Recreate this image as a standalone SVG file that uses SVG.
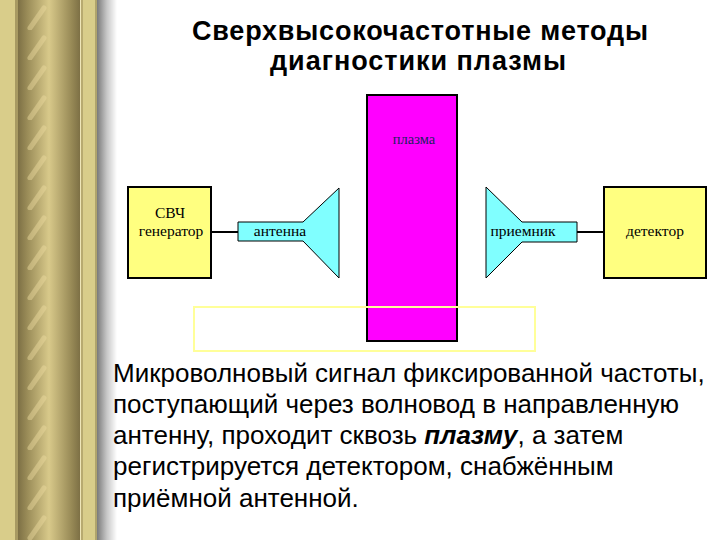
<svg xmlns="http://www.w3.org/2000/svg" width="720" height="540" viewBox="0 0 720 540">
<defs>
<linearGradient id="col" x1="0" y1="0" x2="1" y2="0">
<stop offset="0" stop-color="#7d7045"/>
<stop offset="0.15" stop-color="#9a8c58"/>
<stop offset="0.5" stop-color="#d8c98a"/>
<stop offset="0.85" stop-color="#9a8c58"/>
<stop offset="1" stop-color="#7d7045"/>
</linearGradient>
<linearGradient id="shadow" x1="0" y1="0" x2="1" y2="0">
<stop offset="0" stop-color="#7a7a7a"/>
<stop offset="0.5" stop-color="#c8c8c8"/>
<stop offset="1" stop-color="#ffffff"/>
</linearGradient>
<pattern id="streaks" x="0" y="0" width="62" height="30" patternUnits="userSpaceOnUse">
<path d="M30 28 L44 8" stroke="#ecdca0" stroke-width="5" stroke-linecap="round" opacity="0.45"/>
</pattern>
<style>
.title{font-family:"Liberation Sans",Arial,sans-serif;font-weight:bold;font-size:27px;fill:#000;text-anchor:middle}
.body{font-family:"Liberation Sans",Arial,sans-serif;font-size:26px;fill:#000}
.lbl{font-family:"Liberation Serif","Times New Roman",serif;font-size:15.5px;fill:#000;text-anchor:middle}
.box{fill:#ffff80;stroke:#000;stroke-width:2}
.ant{fill:#80ffff;stroke:#000;stroke-width:1}
.wire{stroke:#000;stroke-width:2;fill:none}
</style>
</defs>
<rect width="720" height="540" fill="#fff"/>
<g id="border">
<rect x="0" y="0" width="97" height="540" fill="#d9cd8a"/>
<rect x="15" y="0" width="3" height="540" fill="#a89a62"/>
<rect x="18" y="0" width="62" height="540" fill="url(#col)"/>
<rect x="18" y="0" width="62" height="540" fill="url(#streaks)"/>
<rect x="80" y="0" width="1" height="540" fill="#efe6b8"/>
<rect x="81" y="0" width="2" height="540" fill="#b8aa70"/>
<rect x="95" y="0" width="2" height="540" fill="#b0a46c"/>
<rect x="97" y="0" width="20" height="540" fill="url(#shadow)"/>
</g>
<g id="title">
<text class="title" x="420" y="40" textLength="456" lengthAdjust="spacing">Сверхвысокочастотные методы</text>
<text class="title" x="418" y="70" textLength="296" lengthAdjust="spacing">диагностики плазмы</text>
</g>
<g id="plasma">
<rect x="367" y="95" width="90" height="246" fill="#ff00ff" stroke="#000" stroke-width="2"/>
<text x="414" y="144" font-family="'Liberation Serif',serif" font-size="14.5" fill="#202060" text-anchor="middle">плазма</text>
</g>
<g id="connectors">
<line class="wire" x1="211" y1="232" x2="238" y2="232"/>
<line class="wire" x1="577" y1="232" x2="604" y2="232"/>
</g>
<g id="generator">
<rect class="box" x="128" y="187" width="83" height="91"/>
<text class="lbl" x="170" y="218">СВЧ</text>
<text class="lbl" x="171" y="236">генератор</text>
</g>
<g id="antenna">
<polygon class="ant" points="238,222 303,222 339,188 339,278 303,241 238,241"/>
<text class="lbl" x="280" y="236">антенна</text>
</g>
<g id="receiver">
<polygon class="ant" points="486,187 522,222 577,222 577,242 522,242 486,278"/>
<text class="lbl" x="523" y="236">приемник</text>
</g>
<g id="detector">
<rect class="box" x="604" y="187" width="102" height="91"/>
<text class="lbl" x="655" y="236">детектор</text>
</g>
<rect x="194" y="307" width="341" height="44" fill="none" stroke="#ffff99" stroke-width="2"/>
<g id="body">
<text class="body" x="113" y="382">Микроволновый сигнал фиксированной частоты,</text>
<text class="body" x="113" y="413">поступающий через волновод в направленную</text>
<text class="body" x="113" y="444">антенну, проходит сквозь <tspan font-weight="bold" font-style="italic">плазму</tspan>, а затем</text>
<text class="body" x="113" y="475">регистрируется детектором, снабжённым</text>
<text class="body" x="113" y="507">приёмной антенной.</text>
</g>
</svg>
